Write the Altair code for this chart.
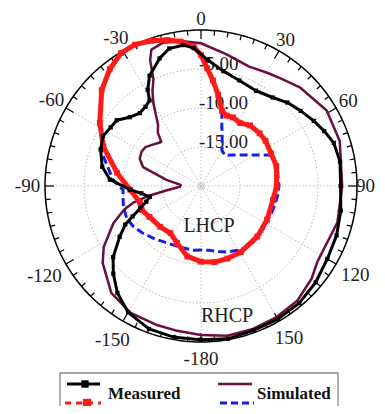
import altair as alt
import numpy as np
import pandas as pd

# ---------------- data: angle (deg, clockwise from top) and normalised gain (dB) ----------------
meas_rhcp_ang = [-180, -170, -160, -150, -142, -135, -129, -122, -117, -114,
                 -110, -106, -102, -97, -93, -86, -79, -70, -63, -57,
                 -52, -46, -40, -35, -31, -29, -25, -18, -13, -7,
                 -3, 3, 11, 20, 30, 39, 46, 53, 60, 66,
                 72, 80, 90, 100, 110, 120, 130, 140, 150, 160, 170]
meas_rhcp_db = [-0.3, -0.3, -0.5, -1.3, -2.6, -4.1, -5.5, -7.7, -9.1, -10.4,
                -11.7, -12.7, -13.3, -12.3, -10.9, -8.3, -7.1, -6.3, -5.9, -6.2,
                -6.3, -7.3, -7.8, -7.6, -7.2, -5.9, -4.4, -2.8, -1.9, -1.8,
                -2.3, -3.8, -5.0, -5.6, -5.9, -5.4, -4.6, -4.0, -3.3, -2.7,
                -2.1, -1.9, -2.1, -1.8, -1.5, -1.3, -0.8, -0.4, -0.3, -0.3, -0.1]

sim_rhcp_ang = [-180, -170, -162, -151, -140, -128, -122, -113, -107, -104,
                -101, -97, -92, -87, -80, -72, -66, -60, -55, -50,
                -42, -39, -35, -30, -27, -24, -22, -20, -15, -7,
                0, 11, 22, 30, 37, 45, 59, 72, 90, 105,
                123, 130, 140, 150, 160, 170]
sim_rhcp_db = [-0.9, -1.2, -1.3, -1.4, -2.1, -4.0, -5.3, -7.8, -9.7, -11.0,
               -12.9, -15.6, -17.3, -17.4, -15.5, -12.2, -11.4, -11.2, -11.3, -11.8,
               -12.4, -11.2, -10.4, -7.8, -6.3, -5.0, -2.6, -1.4, -1.0, -1.3,
               -1.7, -2.8, -3.5, -3.2, -2.8, -2.1, -1.2, -1.3, -1.9, -1.9,
               -2.2, -1.5, -0.8, -0.6, -0.5, -0.5]

meas_lhcp_ang = [-180, -169, -157, -147, -135, -121, -112, -105, -93, -81,
                 -68, -58, -46, -38, -31, -25, -19, -13, -8, -3,
                 0, 3, 6.5, 10.6, 15.6, 20, 25, 32, 39, 48,
                 55, 65, 75, 90, 101, 117, 132, 149, 160, 170]
meas_lhcp_db = [-10.3, -10.8, -12.1, -12.8, -12.6, -12.3, -11.8, -11.9, -10.9, -9.1,
                -6.5, -4.7, -2.3, -1.0, -0.1, 0.0, -0.3, -0.8, -1.3, -2.1,
                -3.2, -4.9, -6.4, -8.1, -10.0, -10.4, -10.3, -10.5, -10.0, -9.9,
                -9.9, -10.1, -10.0, -10.3, -10.6, -10.5, -10.3, -10.1, -10.1, -10.1]

sim_lhcp_ang = [-180, -173, -160, -149, -139, -129, -121, -114, -105, -98,
                -93, -86, -72, -56, -46, -38, -31, -25, -19, -13,
                -8, -3, 0, 3, 6.5, 10.6, 15.6, 19, 22.4, 27,
                30.3, 37.7, 45, 54.8, 61.5, 65.8, 74.5, 90, 97, 110,
                125, 140, 148.6, 158.5, 165, 173]
sim_lhcp_db = [-11.8, -11.7, -11.7, -11.5, -11.0, -10.4, -9.9, -9.6, -9.7, -9.9,
               -10.0, -8.7, -6.7, -4.4, -2.3, -1.0, -0.1, 0.0, -0.3, -0.8,
               -1.3, -2.1, -3.2, -4.9, -6.4, -8.1, -10.0, -11.8, -12.9, -14.0,
               -14.7, -15.0, -14.4, -13.1, -11.7, -10.3, -9.9, -10.0, -10.1, -10.3,
               -10.3, -10.1, -10.4, -10.9, -11.3, -11.7]

ring_values = [-5, -10, -15]
angle_ticks = [0, 30, 60, 90, 120, 150, 180, 210, 240, 270, 300, 330]
angle_labels = ["0", "30", "60", "90", "120", "150", "-180", "-150", "-120", "-90", "-60", "-30"]
DB_MIN = -20.0

# ---------------- scales ----------------
xs = alt.Scale(domain=[-1, 1], range=[37, 349], nice=False, zero=False)
ys = alt.Scale(domain=[-1, 1], range=[334, 22], nice=False, zero=False)
X = alt.X("px:Q", scale=xs, axis=None)
Y = alt.Y("py:Q", scale=ys, axis=None)

SERIF = "Liberation Serif"
R_EXPR = f"(datum.db - ({DB_MIN})) / {-DB_MIN}"


def polar(chart, rexpr, aexpr="datum.ang", sfx=""):
    return chart.transform_calculate(**{
        "px" + sfx: f"({rexpr}) * sin(({aexpr}) * PI / 180)",
        "py" + sfx: f"({rexpr}) * cos(({aexpr}) * PI / 180)",
    })


def curve_df(ang, db):
    a = list(ang) + [ang[0] + 360]
    d = list(db) + [db[0]]
    return pd.DataFrame({"ang": a, "db": d, "i": list(range(len(a)))})


def curve(ang, db, color, width, dash=None):
    kw = dict(color=color, strokeWidth=width, strokeJoin="round")
    if dash is not None:
        kw["strokeDash"] = dash
    ch = alt.Chart(curve_df(ang, db)).mark_line(**kw)
    return polar(ch, R_EXPR).encode(x=X, y=Y, order=alt.Order("i:Q"))


def markers(ang, db, color, size):
    ch = alt.Chart(pd.DataFrame({"ang": ang, "db": db})).mark_square(
        color=color, size=size, opacity=1)
    return polar(ch, R_EXPR).encode(x=X, y=Y)


# ---------------- grid ----------------
circ_ang = np.arange(0, 362, 2)
grid_df = pd.DataFrame([{"ang": a, "db": v, "ring": v, "i": k}
                        for v in ring_values for k, a in enumerate(circ_ang)])
grid = polar(alt.Chart(grid_df).mark_line(color="#b8b8b8", strokeWidth=1, strokeDash=[1.5, 2]),
             R_EXPR).encode(x=X, y=Y, detail="ring:N", order="i:Q")

outer_df = pd.DataFrame({"ang": circ_ang, "db": 0.0, "i": range(len(circ_ang))})
outer = polar(alt.Chart(outer_df).mark_line(color="black", strokeWidth=1.5),
              R_EXPR).encode(x=X, y=Y, order="i:Q")

spoke_df = pd.DataFrame({"ang": angle_ticks})
spokes = alt.Chart(spoke_df).mark_rule(color="#c0c0c0", strokeWidth=1, strokeDash=[1.5, 2])
spokes = polar(polar(spokes, "0.0"), "1.0", sfx="2").encode(
    x=X, y=Y, x2="px2:Q", y2="py2:Q")

tick_df = pd.DataFrame({"ang": np.arange(0, 360, 5)})
ticks = alt.Chart(tick_df).mark_rule(color="black", strokeWidth=1.2)
ticks = ticks.transform_calculate(r0="datum.ang % 30 == 0 ? 1 - 9/156 : 1 - 5/156")
ticks = polar(polar(ticks, "datum.r0"), "1.0", sfx="2").encode(
    x=X, y=Y, x2="px2:Q", y2="py2:Q")

center_pt = alt.Chart(pd.DataFrame({"px": [0.0], "py": [0.0]})).mark_point(
    shape="circle", size=30, color="#aaaaaa", filled=False, strokeWidth=1).encode(x=X, y=Y)

# angle labels
alab_df = pd.DataFrame({"ang": angle_ticks, "label": angle_labels})
alab = alt.Chart(alab_df).mark_text(font=SERIF, fontSize=19, color="#222",
                                    align="center", baseline="middle")
alab = alab.transform_calculate(
    rr="sin(datum.ang*PI/180) > 0.95 ? 1.055 : "
       "(1.072 + 0.02*(length(datum.label)-1)*abs(sin(datum.ang*PI/180)) "
       "+ (cos(datum.ang*PI/180) < -0.3 ? 0.035 : 0))")
alab = polar(alab, "datum.rr").encode(x=X, y=Y, text="label:N")

# radial labels
rlab_df = pd.DataFrame({"db": ring_values, "ang": 0.0,
                        "label": [f"{v:.2f}" for v in ring_values]})
rlab = alt.Chart(rlab_df).mark_text(font=SERIF, fontSize=19, color="#222",
                                    align="left", baseline="middle", dx=-2, dy=-5)
rlab = polar(rlab, R_EXPR).encode(x=X, y=Y, text="label:N")

# annotations
ann_df = pd.DataFrame({"px": [0.051, 0.167], "py": [-0.256, -0.833], "label": ["LHCP", "RHCP"]})
ann = alt.Chart(ann_df).mark_text(font=SERIF, fontSize=20, color="#222",
                                  align="center", baseline="middle").encode(x=X, y=Y, text="label:N")

# ---------------- curves ----------------
PURPLE = "#6b0f3f"
BLUE = "#1520e0"
RED = "#ff1a1a"
sim_r = curve(sim_rhcp_ang, sim_rhcp_db, PURPLE, 2.5)
sim_l = curve(sim_lhcp_ang, sim_lhcp_db, BLUE, 3, dash=[8, 4])
meas_l = curve(meas_lhcp_ang, meas_lhcp_db, RED, 5)
meas_l_pts = markers(meas_lhcp_ang, meas_lhcp_db, RED, 34)
meas_r = curve(meas_rhcp_ang, meas_rhcp_db, "black", 3)
meas_r_pts = markers(meas_rhcp_ang, meas_rhcp_db, "black", 18)

# ---------------- legend (decoration) ----------------
one = pd.DataFrame({"k": [0]})
leg_box = alt.Chart(one).mark_rect(fill="white", stroke="#888888", strokeWidth=1.3).encode(
    x=alt.value(52), x2=alt.value(330), y=alt.value(365), y2=alt.value(430))
leg_black = alt.Chart(one).mark_rule(color="black", strokeWidth=3).encode(
    x=alt.value(59), x2=alt.value(92), y=alt.value(376))
leg_black_pt = alt.Chart(one).mark_square(color="black", size=55, opacity=1).encode(
    x=alt.value(77), y=alt.value(376))
leg_red = alt.Chart(one).mark_rule(color=RED, strokeWidth=3, strokeDash=[6, 5]).encode(
    x=alt.value(57), x2=alt.value(93), y=alt.value(395))
leg_red_pt = alt.Chart(one).mark_square(color=RED, size=70, opacity=1).encode(
    x=alt.value(79), y=alt.value(395))
leg_purple = alt.Chart(one).mark_rule(color=PURPLE, strokeWidth=2.5).encode(
    x=alt.value(210), x2=alt.value(244), y=alt.value(376))
leg_blue = alt.Chart(one).mark_rule(color=BLUE, strokeWidth=3, strokeDash=[7, 4]).encode(
    x=alt.value(212), x2=alt.value(246), y=alt.value(395))
leg_t1 = alt.Chart(one).mark_text(font=SERIF, fontSize=17, fontWeight="bold", color="#111",
                                  align="left", baseline="middle").encode(
    x=alt.value(100), y=alt.value(386), text=alt.value("Measured"))
leg_t2 = alt.Chart(one).mark_text(font=SERIF, fontSize=17, fontWeight="bold", color="#111",
                                  align="left", baseline="middle").encode(
    x=alt.value(249), y=alt.value(386), text=alt.value("Simulated"))

chart = alt.layer(
    grid, spokes, center_pt, outer, ticks, alab, rlab, ann,
    sim_r, sim_l, meas_l, meas_l_pts, meas_r, meas_r_pts,
    leg_box, leg_black, leg_black_pt, leg_red, leg_red_pt, leg_purple, leg_blue, leg_t1, leg_t2,
).properties(
    width=369, height=398,
    autosize=alt.AutoSizeParams(type="none"),
    padding=0,
    background="white",
).configure_view(stroke=None)

chart.save("out.html", embed_options={"renderer": "svg", "actions": False})
